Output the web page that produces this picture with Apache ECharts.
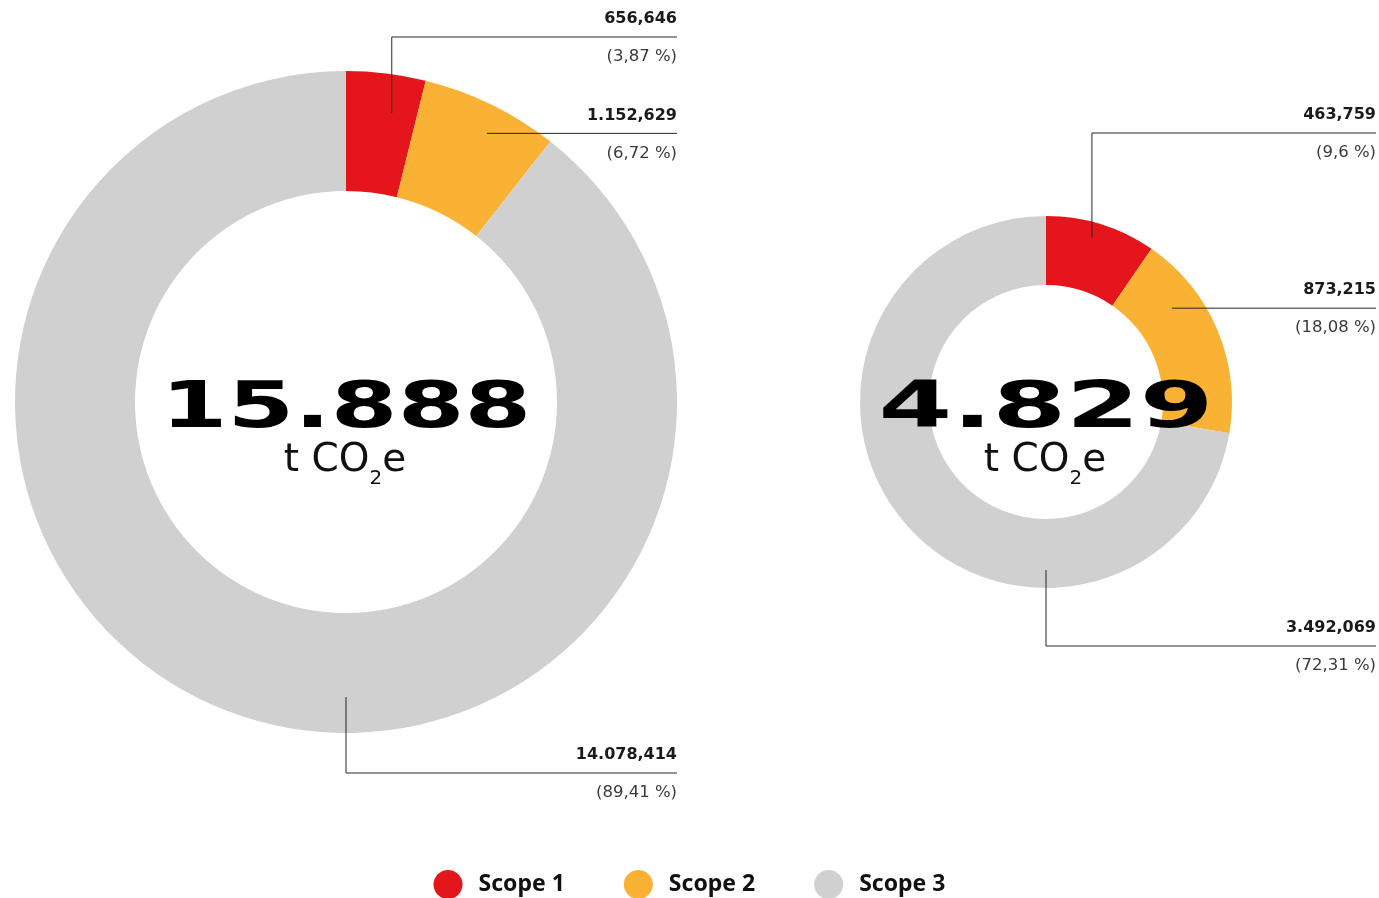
<!DOCTYPE html>
<html>
<head>
<meta charset="utf-8">
<script src="https://cdn.jsdelivr.net/npm/echarts@6/dist/echarts.min.js"></script>
<style>
	html, body { margin: 0; padding: 0; background: #fff; }
	#chart { width: 1379px; height: 898px; }
</style>
</head>
<body>
<div id="chart"></div>
<script>
// data
const scopes = ["Scope 1", "Scope 2", "Scope 3"]
const colors = ["#E4161B", "#F9B233", "#D0D0D0"]
const leftValues = [656.646, 1152.629, 14078.414]
const leftShares = [3.87, 6.72, 89.41]
const rightValues = [463.759, 873.215, 3492.069]
const rightShares = [9.6, 18.08, 72.31]

// german number format: 14.078,414
function fmt(v, digits) {
	let parts = v.toFixed(digits).split(".")
	let int = parts[0].replace(/\B(?=(\d{3})+(?!\d))/g, ".")
	return parts.length > 1 ? int + "," + parts[1] : int
}
function fmtShare(s) {
	return "(" + String(s).replace(".", ",") + "\u00a0%)"
}
function sum(arr) {
	return arr.reduce(function (a, b) { return a + b }, 0)
}

// layout of the two rings and their leader lines
let rings = [
	{
		center: [346, 402], radius: [211, 331], endX: 677, scaleX: 1.5,
		// [angle from top (deg), position within ring (0..1), line y relative to center or null]
		leaders: [[9, 0.68, -365], [27.7, 0.77, null], [180, 0.7, 371]]
	},
	{
		center: [1046, 402], radius: [117, 186], endX: 1376, scaleX: 1.655,
		leaders: [[15.6, 0.78, -269], [53.3, 0.58, null], [180, 0.74, 244]]
	}
]

let chart = echarts.init(document.getElementById("chart"))

function makeRing(idx, shares) {
	let ring = rings[idx]
	return {
		type: "pie",
		z: 2,
		center: ring.center,
		radius: ring.radius,
		startAngle: 90,
		silent: true,
		emphasis: { disabled: true },
		label: { show: false },
		labelLine: { show: false },
		data: shares.map(function (s, i) {
			return { name: scopes[i], value: s, itemStyle: { color: colors[i] } }
		})
	}
}

// transparent copy of the ring on top, only for labels and leader lines
function makeLabels(idx, values, shares) {
	let ring = rings[idx]
	return {
		type: "pie",
		z: 5,
		center: ring.center,
		radius: ring.radius,
		startAngle: 90,
		avoidLabelOverlap: false,
		silent: true,
		emphasis: { disabled: true },
		itemStyle: { color: "rgba(0,0,0,0)" },
		data: shares.map(function (s, i) {
			return {
				name: scopes[i],
				value: s,
				label: {
					formatter: "{v|" + fmt(values[i], 3) + "}\n{p|" + fmtShare(s) + "}"
				}
			}
		}),
		label: {
			show: true,
			position: "outside",
			rich: {
				v: { fontFamily: "DejaVu Sans", fontWeight: "bold", fontSize: 16, color: "#1a1a1a", lineHeight: 38, align: "right" },
				p: { fontFamily: "DejaVu Sans", fontSize: 16.5, color: "#3a3a3a", lineHeight: 38, align: "right" }
			}
		},
		labelLine: {
			show: true,
			length: 10,
			length2: 10,
			lineStyle: { color: "#262626", width: 1 }
		},
		labelLayout: function (params) {
			let lead = ring.leaders[params.dataIndex]
			let a = lead[0] * Math.PI / 180
			let r = ring.radius[0] + lead[1] * (ring.radius[1] - ring.radius[0])
			let ax = ring.center[0] + r * Math.sin(a)
			let ay = ring.center[1] - r * Math.cos(a)
			let lineY = lead[2] === null ? ay : ring.center[1] + lead[2]
			return {
				x: ring.endX,
				y: lineY + 1,
				align: "right",
				verticalAlign: "middle",
				labelLinePoints: [[ax, ay], [ax, lineY], [ring.endX, lineY]]
			}
		}
	}
}

function centerText(idx, values) {
	let ring = rings[idx]
	return [
		{
			type: "text",
			z: 100,
			x: ring.center[0],
			y: ring.center[1] + 8,
			scaleX: ring.scaleX,
			style: {
				text: fmt(Math.round(sum(values)), 0),
				font: "bold 64px 'DejaVu Sans'",
				fill: "#000",
				align: "center",
				verticalAlign: "middle"
			}
		},
		{
			type: "text",
			z: 100,
			x: ring.center[0] - 1,
			y: ring.center[1] + 59,
			style: {
				text: "t CO{s|2}e",
				font: "39px 'DejaVu Sans'",
				fill: "#111",
				align: "center",
				verticalAlign: "middle",
				lineHeight: 56,
				rich: {
					s: { fontSize: 20, fontFamily: "DejaVu Sans", lineHeight: 20, verticalAlign: "bottom", fill: "#111" }
				}
			}
		}
	]
}

let option = {
	animation: false,
	legend: {
		data: scopes,
		left: "center",
		top: 870,
		padding: 0,
		icon: "circle",
		itemWidth: 29,
		itemHeight: 29,
		itemGap: 59,
		selectedMode: false,
		textStyle: {
			fontFamily: "Noto Sans",
			fontWeight: "bold",
			fontSize: 23,
			color: "#111",
			padding: [0, 0, 0, 11]
		}
	},
	graphic: centerText(0, leftValues).concat(centerText(1, rightValues)),
	series: [
		makeRing(0, leftShares),
		makeRing(1, rightShares),
		makeLabels(0, leftValues, leftShares),
		makeLabels(1, rightValues, rightShares)
	]
}
chart.setOption(option)
</script>
</body>
</html>
